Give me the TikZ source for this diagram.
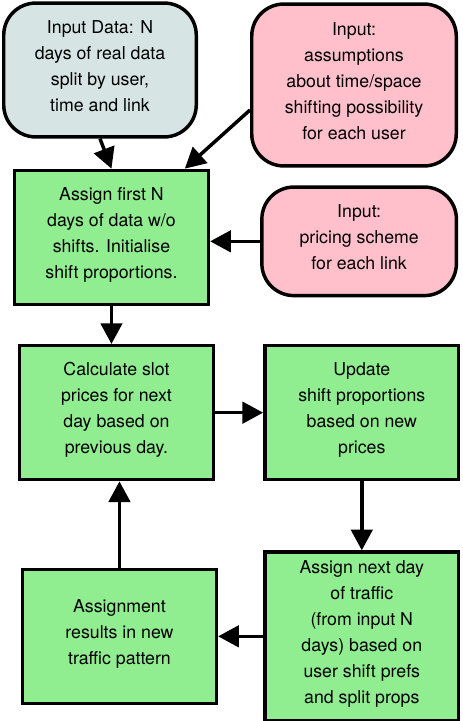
\documentclass[tikz,border=0pt]{standalone}
\usepackage{fontspec}
\setmainfont{TeX Gyre Heros}
\usepackage{xcolor}
\usepackage{tikz}
\usetikzlibrary{arrows.meta, positioning}

\definecolor{datagrey}{RGB}{214,228,228}
\definecolor{inputpink}{RGB}{255,192,203}
\definecolor{procgreen}{RGB}{144,238,144}

\begin{document}
\begin{tikzpicture}[line width=2.6pt, arrow/.style={-{Triangle[length=15.5pt, width=16pt]}, line width=2.6pt}]
\tikzstyle{procbox} = [rectangle, draw, align=center, minimum width=145.4pt, minimum height=100.4pt, font={\fontsize{13.3}{19.5}\selectfont}, execute at end node={\rule[-6.5pt]{0pt}{6.5pt}}, fill=procgreen]
\tikzstyle{inputbox} = [rectangle, draw, align=center, minimum width=145.9pt, rounded corners=24pt, font={\fontsize{13.3}{19.5}\selectfont}, execute at end node={\rule[-6.5pt]{0pt}{6.5pt}}, fill=inputpink]
\useasboundingbox (0,0) rectangle (347.25pt,-540.75pt);
\node[inputbox, fill=datagrey, minimum width=144.4pt, minimum height=100.4pt] (data) at (75pt,-52.5pt) {Input Data: N\\days of real data\\split by user,\\time and link};
\node[inputbox, minimum width=153.4pt, minimum height=121.4pt, right=39pt of data, yshift=-11.25pt] (assume) {Input:\\assumptions\\about time/space\\shifting possibility\\for each user};
\node[procbox, below=22.5pt of data, xshift=8.6pt] (first) {Assign first N\\days of data w/o\\shifts. Initialise\\shift proportions.};
\node[inputbox, minimum height=81.4pt, right=37.5pt of first, yshift=-3pt] (price) {Input:\\pricing scheme\\for each link};
\draw[arrow] (data.south) -- (first.north);
\draw[arrow] ([yshift=-18.75pt]assume.west) -- ([xshift=55pt]first.north);
\draw[arrow] (price.west) -- (price.west -| first.east);
\node[procbox, below=28.5pt of first, xshift=3.75pt] (calc) {Calculate slot\\prices for next\\day based on\\previous day.};
\draw[arrow] (first.south) -- (first.south |- calc.north);
\node[procbox, right=36pt of calc] (update) {Update\\shift proportions\\based on new\\prices};
\draw[arrow] (calc) -- (update);
\node[procbox, minimum height=126.4pt, below=51.75pt of update] (next) {Assign next day\\of traffic\\(from input N\\days) based on\\user shift prefs\\and split props};
\draw[arrow] (update) -- (next);
\node[procbox, left=33.75pt of next] (result) {Assignment\\results in new\\traffic pattern};
\draw[arrow] (next) -- (result);
\draw[arrow] (result) -- (result |- calc.south);
\end{tikzpicture}
\end{document}
